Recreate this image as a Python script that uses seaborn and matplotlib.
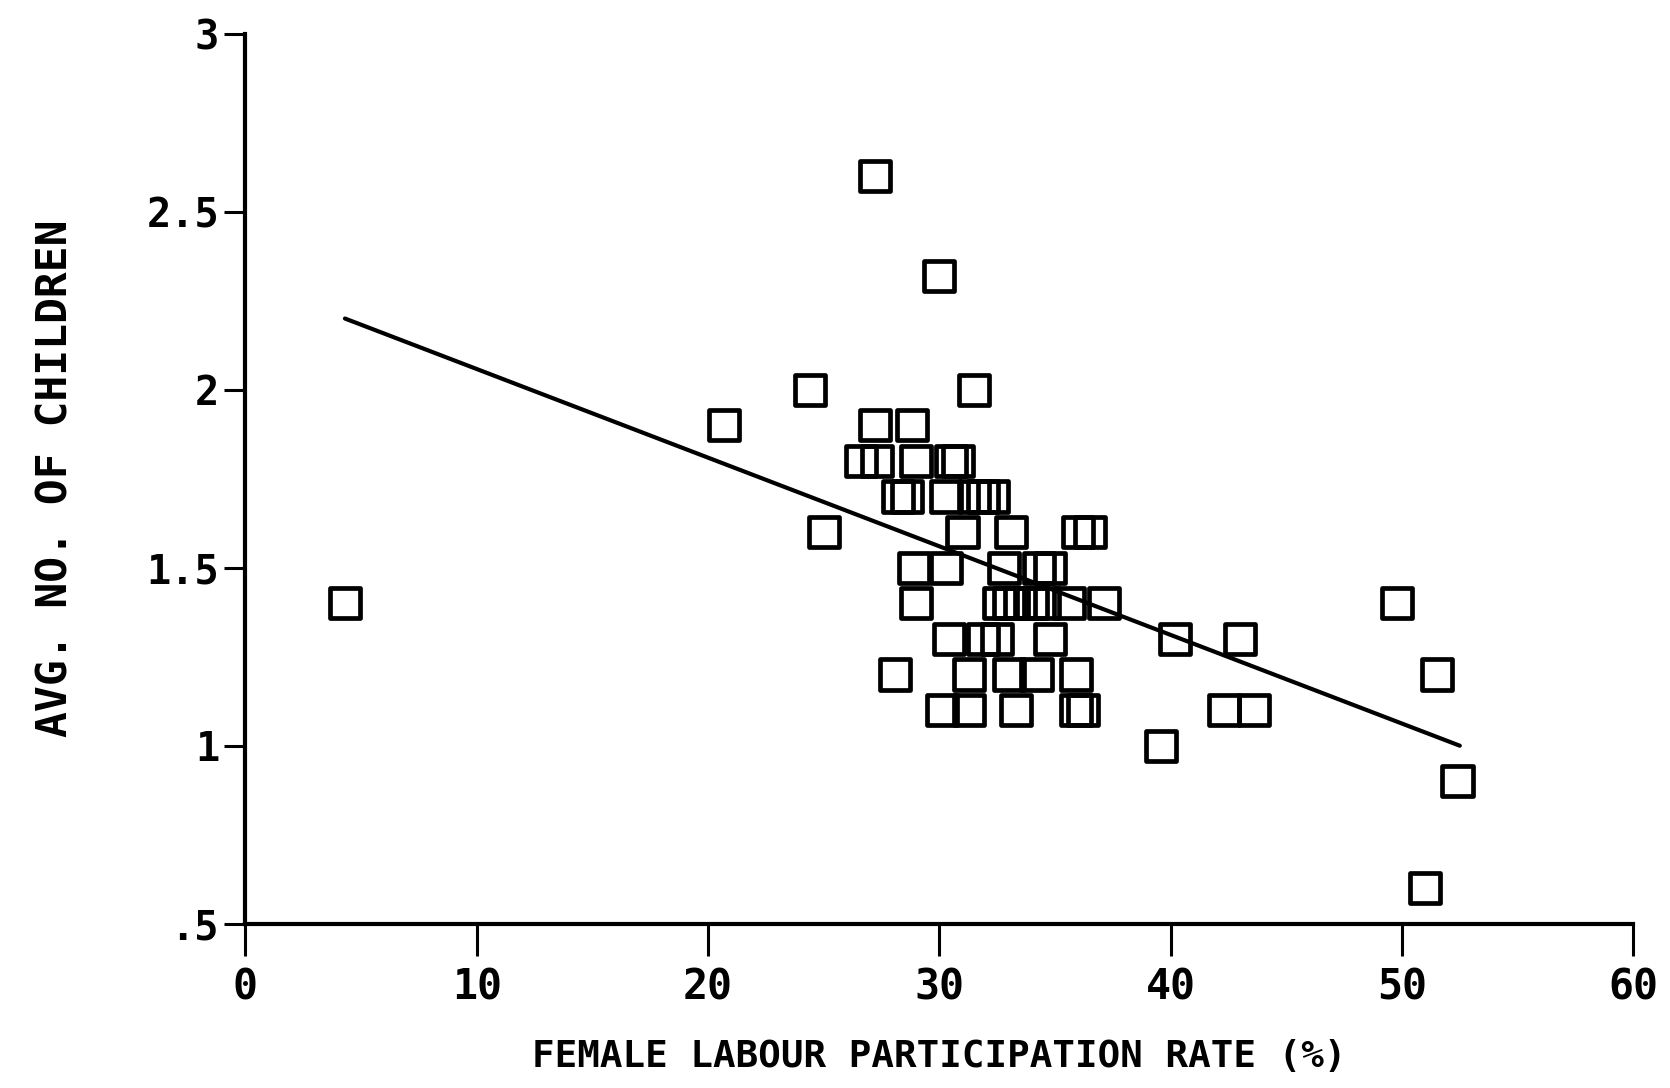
import numpy as np
import pandas as pd
import matplotlib
matplotlib.use('Agg')
import matplotlib.pyplot as plt
import seaborn as sns

# valores: tasa de participación laboral femenina vs. nº medio de hijos
tasa = [4.3, 27.2, 30.0, 24.4, 31.5,
        20.7, 27.2, 28.8,
        26.6, 27.3, 29.0, 30.5, 30.8,
        28.2, 28.6, 30.3, 31.5, 31.9, 32.3,
        25.0, 31.0, 33.1, 36.0, 36.5,
        28.9, 30.3, 32.8, 34.3, 34.8,
        29.0, 32.6, 33.0, 33.5, 34.0, 34.5, 35.6, 37.1,
        30.4, 31.9, 32.5, 34.8, 40.2, 43.0,
        28.1, 31.3, 33.0, 34.2, 35.9, 51.5,
        30.1, 31.3, 33.3, 35.9, 36.2, 42.3, 43.6,
        39.6, 49.8, 52.4, 51.0]
hijos = [1.4, 2.6, 2.32, 2.0, 2.0,
         1.9, 1.9, 1.9,
         1.8, 1.8, 1.8, 1.8, 1.8,
         1.7, 1.7, 1.7, 1.7, 1.7, 1.7,
         1.6, 1.6, 1.6, 1.6, 1.6,
         1.5, 1.5, 1.5, 1.5, 1.5,
         1.4, 1.4, 1.4, 1.4, 1.4, 1.4, 1.4, 1.4,
         1.3, 1.3, 1.3, 1.3, 1.3, 1.3,
         1.2, 1.2, 1.2, 1.2, 1.2, 1.2,
         1.1, 1.1, 1.1, 1.1, 1.1, 1.1, 1.1,
         1.0, 1.4, 0.9, 0.6]

# recta de regresión (extremos)
recta_x = [4.3, 52.5]
recta_y = [2.2, 1.0]

x_ticks = [0, 10, 20, 30, 40, 50, 60]
x_labels = ['0', '10', '20', '30', '40', '50', '60']
y_ticks = [0.5, 1, 1.5, 2, 2.5, 3]
y_labels = ['.5', '1', '1.5', '2', '2.5', '3']

df = pd.DataFrame({'tasa': tasa, 'hijos': hijos})

sns.set_style('ticks')
plt.rcParams['font.family'] = ['DejaVu Sans Mono', 'DejaVu Sans']
plt.rcParams['font.weight'] = 'bold'
plt.rcParams['text.color'] = 'black'
plt.rcParams['axes.labelcolor'] = 'black'

fig = plt.figure(figsize=(16.7, 10.88), dpi=100)
ax = fig.add_axes([0.147, 0.151, 0.831, 0.818])

sns.scatterplot(data=df, x='tasa', y='hijos', marker='s', s=470,
                facecolor='none', edgecolor='black', linewidth=3.4, ax=ax)
sns.lineplot(x=recta_x, y=recta_y, color='black', linewidth=3, ax=ax)

ax.set_xlim(0, 60)
ax.set_ylim(0.5, 3)
ax.set_xticks(x_ticks)
ax.set_xticklabels(x_labels, fontsize=30, fontweight='bold')
ax.set_yticks(y_ticks)
ax.set_yticklabels(y_labels, fontsize=29, fontweight='bold')
ax.tick_params(axis='x', length=23, width=2.2, pad=8, colors='black')
ax.tick_params(axis='y', length=15, width=2.2, pad=4, colors='black')

sns.despine(ax=ax)
for lado in ['left', 'bottom']:
    ax.spines[lado].set_linewidth(3)
    ax.spines[lado].set_color('black')

ax.set_xlabel('FEMALE LABOUR PARTICIPATION RATE (%)', fontsize=27,
              fontweight='bold', labelpad=22)
ax.set_ylabel('AVG. NO. OF CHILDREN', fontsize=31, fontweight='bold',
              labelpad=50)

plt.savefig('out.png', dpi=100)
